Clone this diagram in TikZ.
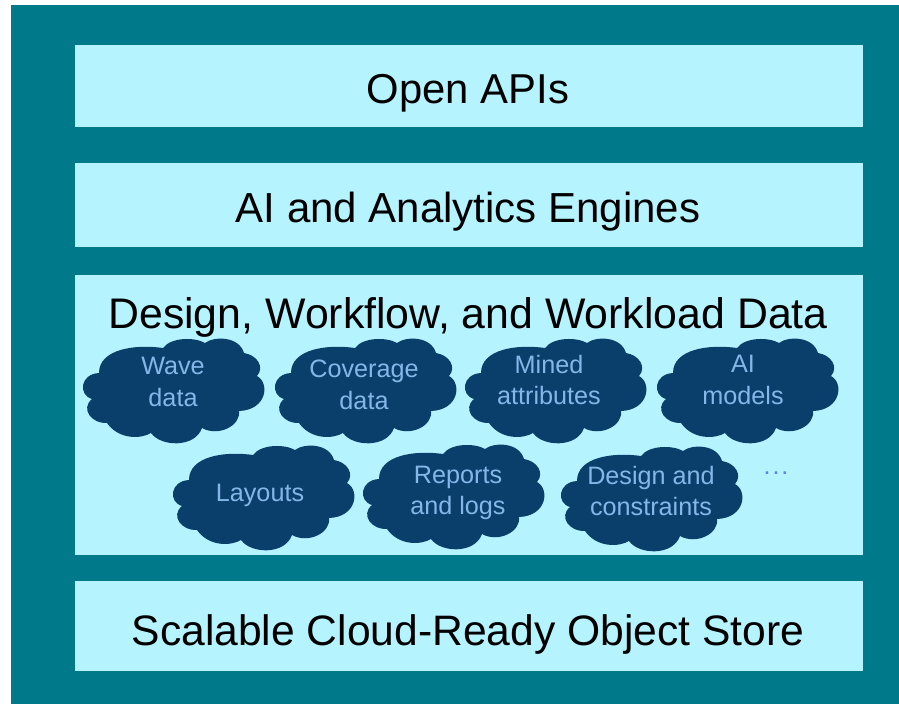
\documentclass[tikz,border=0pt]{standalone}
\usepackage{fontspec}
\setmainfont{Liberation Sans}
\definecolor{tealback}{RGB}{0,121,138}
\definecolor{lightbox}{RGB}{181,243,255}
\definecolor{darkcloud}{RGB}{11,63,107}
\definecolor{cloudtext}{RGB}{132,182,232}
\tikzset{
  layerbox/.style={fill=lightbox,inner sep=0pt,minimum width=788pt},
  cloudlabel/.style={align=center,text=cloudtext,font=\fontsize{25.2}{31.5}\selectfont},
  blob/.pic={
    \fill[darkcloud] (9,60) .. controls (-5,56) and (-3,35) .. (16,34)
      .. controls (16,10) and (52,5) .. (80,9)
      .. controls (88,-2) and (112,-2) .. (122,4)
      .. controls (131,-3) and (156,-3) .. (161,14)
      .. controls (174,16) and (182,28) .. (174,37)
      .. controls (187,44) and (184,71) .. (156,72)
      .. controls (158,87) and (135,98) .. (119,89)
      .. controls (112,109) and (78,108) .. (68,94)
      .. controls (58,100) and (36,101) .. (24,84)
      .. controls (9,85) and (-3,70) .. (9,60) -- cycle;
  }
}
\begin{document}
\begin{tikzpicture}[x=1pt,y=-1pt]
\useasboundingbox (0,0) rectangle (899,704);
\fill[tealback] (11,5) rectangle (899,704);
\node[layerbox,minimum height=82pt] (apis) at (469,86) {};
\node[layerbox,minimum height=84pt] (engines) at (469,205) {};
\node[layerbox,minimum height=280pt] (data) at (469,415) {};
\node[layerbox,minimum height=90pt] (store) at (469,626) {};
\node (apistext) at (468,93) {\fontsize{41.8}{48}\selectfont Open APIs};
\node (enginestext) at (468,212) {\fontsize{42}{48}\selectfont AI and Analytics Engines};
\node (datatext) at (468,317) {\fontsize{42.8}{48}\selectfont Design, Workflow, and Workload Data};
\node (storetext) at (468,634) {\fontsize{42.6}{48}\selectfont Scalable Cloud-Ready Object Store};
\foreach \x/\y in {83/339,275/339,465/339,657/339,173/446,363/445,561/447}
\pic at (\x,\y) {blob};
\node[cloudlabel] (wave) at (173,382) {Wave\\data};
\node[cloudlabel] (coverage) at (364,385) {Coverage\\data};
\node[cloudlabel] (mined) at (549,380) {Mined\\attributes};
\node[cloudlabel] (models) at (743,380) {AI\\models};
\node[cloudlabel] (layouts) at (260,495) {Layouts};
\node[cloudlabel] (reports) at (458,493) {Reports\\and logs};
\node[cloudlabel] (constraints) at (651,491) {Design and\\constraints};
\node[text=cloudtext!70!blue,font=\fontsize{25}{30}\selectfont,anchor=base] (more) at (776,474) {.\kern2pt.\kern2pt.};
\end{tikzpicture}
\end{document}
